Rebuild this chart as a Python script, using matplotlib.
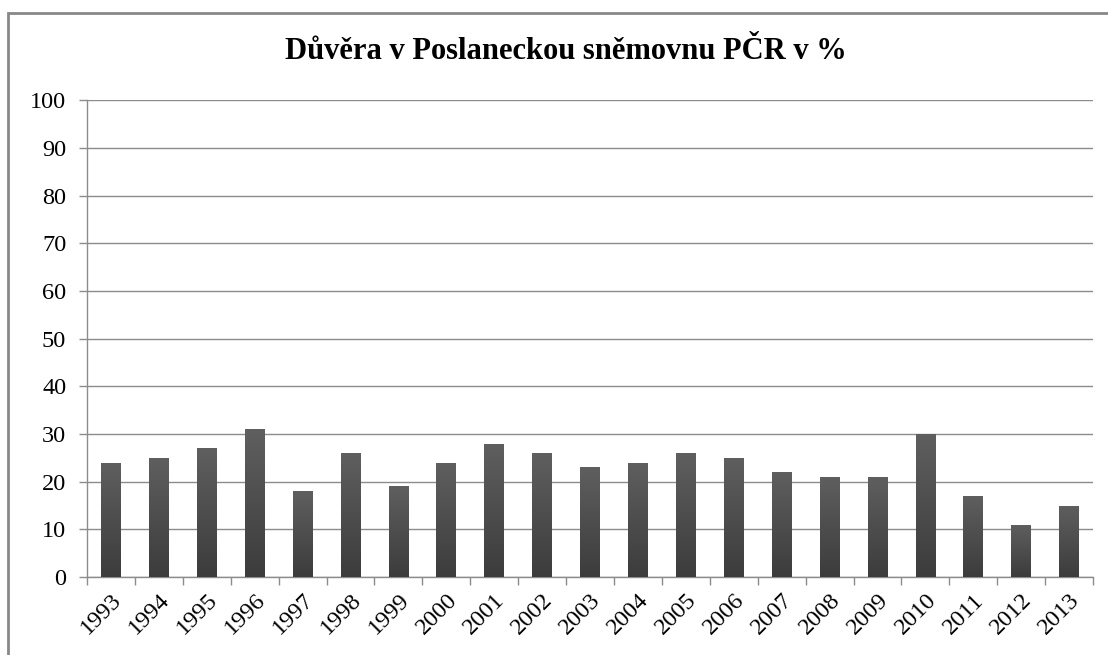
import numpy as np
import matplotlib.pyplot as plt
from matplotlib.patches import Rectangle
from matplotlib.colors import LinearSegmentedColormap

years = ['1993', '1994', '1995', '1996', '1997', '1998', '1999', '2000', '2001', '2002', '2003',
         '2004', '2005', '2006', '2007', '2008', '2009', '2010', '2011', '2012', '2013']
trust = [24, 25, 27, 31, 18, 26, 19, 24, 28, 26, 23, 24, 26, 25, 22, 21, 21, 30, 17, 11, 15]
title = 'Důvěra v Poslaneckou sněmovnu PČR v %'

plt.rcParams['font.family'] = ['Liberation Serif', 'DejaVu Serif']

fig = plt.figure(figsize=(11.08, 6.55), dpi=100)
ax = fig.add_axes([0.0785, 0.119, 0.908, 0.728])

x = np.arange(len(years))
bars = ax.bar(x, trust, width=0.41, color='#4d4d4d', zorder=3)

# vertical gradient inside each bar, lighter at the top
bar_cmap = LinearSegmentedColormap.from_list('bar', ['#3c3c3c', '#5f5f5f'])
grad = np.linspace(0, 1, 256).reshape(-1, 1)
for b in bars:
    bx, by = b.get_x(), b.get_y()
    w, h = b.get_width(), b.get_height()
    im = ax.imshow(grad, cmap=bar_cmap, aspect='auto', origin='lower',
                   extent=[bx, bx + w, by, by + h], zorder=4)
    im.set_clip_path(b)

ax.set_xlim(-0.5, len(years) - 0.5)
ax.set_ylim(0, 100)
ax.set_yticks(range(0, 101, 10))
ax.grid(axis='y', color='#8c8c8c', linewidth=1, zorder=0)

ax.set_xticks(x)
ax.set_xticklabels(years, rotation=45, ha='right', rotation_mode='anchor', fontsize=17.5)
ax.tick_params(axis='x', which='major', length=0, pad=9)
ax.set_xticks(np.arange(-0.5, len(years), 1), minor=True)
ax.tick_params(axis='x', which='minor', length=5.5, color='#8c8c8c', width=1)
ax.tick_params(axis='y', length=6, color='#8c8c8c', width=1, labelsize=17.5, pad=9)

for s in ['top', 'right']:
    ax.spines[s].set_visible(False)
for s in ['left', 'bottom']:
    ax.spines[s].set_color('#8c8c8c')
    ax.spines[s].set_linewidth(1)

fig.text(0.511, 0.922, title, ha='center', va='center', fontsize=22, fontweight='bold')

# chart-area frame, cut off at the right and bottom edges of the picture
border = Rectangle((8 / 1108, -0.05), 1.1, 1 - 13 / 655 + 0.05, transform=fig.transFigure,
                   fill=False, edgecolor='#888888', linewidth=2)
fig.patches.append(border)

fig.savefig('out.png', dpi=100)
